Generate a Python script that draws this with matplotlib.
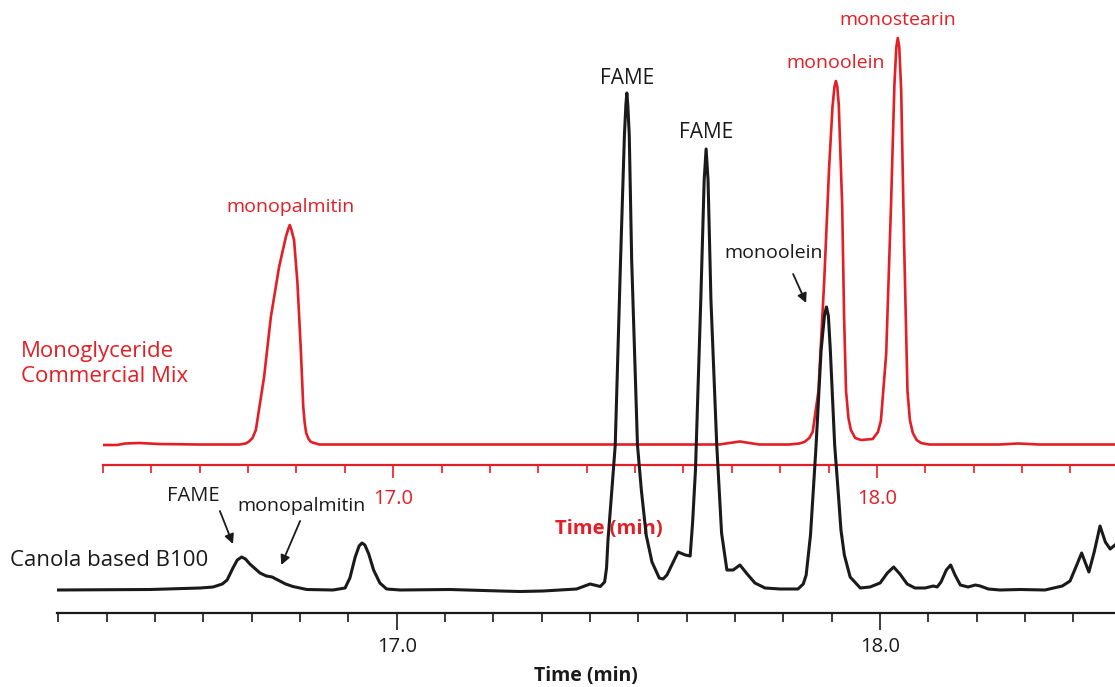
import matplotlib
matplotlib.use("Agg")
import matplotlib.pyplot as plt
from matplotlib.ticker import MultipleLocator

plt.rcParams['font.family'] = ['Open Sans', 'DejaVu Sans']

RED = '#e31e25'
INK = '#1a1a1a'

# Canola based B100 chromatogram: time (min), detector response (arb. units)
b100_time = [16.297, 16.490, 16.593, 16.620, 16.639, 16.649, 16.661, 16.670, 16.679, 16.687,
             16.696, 16.717, 16.730, 16.742, 16.754, 16.770, 16.785, 16.814, 16.868, 16.893,
             16.903, 16.914, 16.922, 16.928, 16.934, 16.942, 16.952, 16.965, 16.979, 17.007,
             17.110, 17.214, 17.255, 17.303, 17.372, 17.400, 17.421, 17.430, 17.434, 17.437,
             17.445, 17.452, 17.463, 17.471, 17.474, 17.476, 17.478, 17.481, 17.486, 17.498,
             17.506, 17.516, 17.528, 17.543, 17.551, 17.559, 17.572, 17.582, 17.597, 17.607,
             17.612, 17.618, 17.629, 17.636, 17.640, 17.644, 17.650, 17.662, 17.672, 17.683,
             17.696, 17.710, 17.725, 17.741, 17.762, 17.793, 17.830, 17.841, 17.847, 17.856,
             17.867, 17.878, 17.885, 17.889, 17.893, 17.897, 17.906, 17.913, 17.919, 17.926,
             17.938, 17.959, 17.979, 18.000, 18.015, 18.028, 18.041, 18.056, 18.072, 18.093,
             18.110, 18.118, 18.126, 18.137, 18.146, 18.155, 18.166, 18.182, 18.197, 18.207,
             18.224, 18.248, 18.290, 18.341, 18.377, 18.393, 18.406, 18.417, 18.424, 18.432,
             18.443, 18.455, 18.466, 18.476, 18.486]
b100_signal = [0, 0.5, 2, 3, 6, 10, 22, 30, 33, 31,
               26, 17, 14, 13, 10, 6, 3.5, 0.5, 0, 2,
               12, 33, 44, 47, 45, 36, 20, 7, 1, 0,
               0.5, -1, -1.5, -1, 1, 6, 3.5, 8, 22, 50,
               100, 145, 330, 455, 485, 497, 485, 455, 330, 145,
               100, 55, 28, 12, 11, 15, 28, 38, 35, 34,
               67, 120, 290, 410, 441, 410, 290, 145, 57, 20,
               20, 25, 16, 7, 2, 1, 1, 6, 15, 55,
               140, 240, 275, 283, 274, 240, 145, 100, 60, 35,
               13, 2, 3, 7, 17, 23, 16, 6, 2, 2,
               4, 3, 8, 20, 25, 15, 5, 3, 5, 4,
               1, 0, 0.5, 0, 4, 9, 24, 37, 28, 18,
               38, 64, 48, 41, 45]

# Monoglyceride commercial mix chromatogram
mix_time = [16.399, 16.429, 16.446, 16.475, 16.516, 16.599, 16.682, 16.695, 16.702, 16.709,
            16.716, 16.733, 16.747, 16.764, 16.778, 16.783, 16.786, 16.789, 16.795, 16.802,
            16.809, 16.814, 16.817, 16.820, 16.825, 16.830, 16.847, 17.200, 17.674, 17.695,
            17.717, 17.736, 17.757, 17.819, 17.839, 17.850, 17.860, 17.867, 17.879, 17.891,
            17.901, 17.908, 17.912, 17.915, 17.918, 17.921, 17.928, 17.932, 17.936, 17.941,
            17.946, 17.955, 17.967, 17.991, 18.002, 18.008, 18.019, 18.029, 18.036, 18.040,
            18.043, 18.046, 18.050, 18.056, 18.063, 18.068, 18.074, 18.082, 18.091, 18.108,
            18.253, 18.292, 18.336, 18.492]
mix_signal = [0, 0, 1.5, 2, 1, 0.5, 0.5, 1.5, 3.5, 7,
              15, 68, 128, 178, 208, 216, 220, 216, 205, 162,
              95, 38, 22, 12, 6, 3, 0.5, 0.5, 0.5, 2,
              3.5, 2, 0.5, 0.5, 1.5, 3, 7, 13, 54, 165,
              277, 338, 358, 364, 358, 340, 240, 128, 54, 27,
              15, 7, 5, 6, 13, 24, 91, 240, 360, 398,
              407, 398, 355, 203, 54, 25, 12, 5, 2, 0.5,
              0.5, 1.5, 0.5, 0.5]

major_ticks = [17.0, 18.0]
major_labels = ['17.0', '18.0']

W, H = 1115, 687
fig = plt.figure(figsize=(W / 100, H / 100), dpi=100)

# red (upper) trace first so the black one sits on top
ax_mix = fig.add_axes([102.5 / W, 1 - 464.5 / H, 1 - 102.5 / W, (464.5 - 20) / H])
ax_b = fig.add_axes([57 / W, 1 - 613 / H, 1 - 57 / W, (613 - 20) / H])


def style_axis(ax, color, major_len, minor_len, pad):
    ax.patch.set_visible(False)
    for s in ['top', 'right', 'left']:
        ax.spines[s].set_visible(False)
    ax.spines['bottom'].set_color(color)
    ax.spines['bottom'].set_linewidth(1.6)
    ax.set_yticks([])
    ax.set_xticks(major_ticks, major_labels)
    ax.xaxis.set_minor_locator(MultipleLocator(0.1))
    ax.tick_params(axis='x', which='major', direction='out', length=major_len, width=1.2,
                   color=color, labelcolor=color, labelsize=14.5, pad=pad)
    ax.tick_params(axis='x', which='minor', direction='out', length=minor_len, width=1.2,
                   color=color)


ax_mix.plot(mix_time, mix_signal, color=RED, lw=1.9, solid_joinstyle='round')
ax_mix.set_xlim(16.399, 18.492)
ax_mix.set_ylim(-19.5, 425)
style_axis(ax_mix, RED, 9.5, 5.8, 8)
ax_mix.set_xlabel('Time (min)', fontsize=14.5, fontweight='bold', color=RED, labelpad=7)

ax_b.plot(b100_time, b100_signal, color=INK, lw=2.2, solid_joinstyle='round')
ax_b.set_xlim(16.297, 18.486)
ax_b.set_ylim(-23, 570)
style_axis(ax_b, INK, 12, 6.5, 5.5)
ax_b.set_xlabel('Time (min)', fontsize=14, fontweight='bold', color=INK, labelpad=6.5)

# red labels
ax_mix.text(16.787, 238, 'monopalmitin', ha='center', va='center', fontsize=14, color=RED)
ax_mix.text(17.914, 382, 'monoolein', ha='center', va='center', fontsize=14, color=RED)
ax_mix.text(18.042, 425, 'monostearin', ha='center', va='center', fontsize=14, color=RED)
ax_mix.text(16.231, 81, 'Monoglyceride\nCommercial Mix', ha='left', va='center',
            fontsize=16, color=RED, linespacing=1.3)

# black labels
ax_b.text(17.476, 512, 'FAME', ha='center', va='center', fontsize=15, color=INK)
ax_b.text(17.640, 457, 'FAME', ha='center', va='center', fontsize=15, color=INK)
ax_b.text(17.779, 337, 'monoolein', ha='center', va='center', fontsize=14, color=INK)
ax_b.text(16.579, 94, 'FAME', ha='center', va='center', fontsize=14.5, color=INK)
ax_b.text(16.802, 84, 'monopalmitin', ha='center', va='center', fontsize=14, color=INK)
ax_b.text(16.200, 30, 'Canola based B100', ha='left', va='center', fontsize=16, color=INK)

arrow = dict(arrowstyle='-|>', color=INK, lw=1.3, mutation_scale=14, shrinkA=0, shrinkB=0)
ax_b.annotate('', xy=(16.661, 46), xytext=(16.634, 79), arrowprops=arrow)
ax_b.annotate('', xy=(16.761, 25), xytext=(16.800, 69), arrowprops=arrow)
ax_b.annotate('', xy=(17.847, 287), xytext=(17.820, 316), arrowprops=arrow)

fig.savefig('out.png', dpi=100)
